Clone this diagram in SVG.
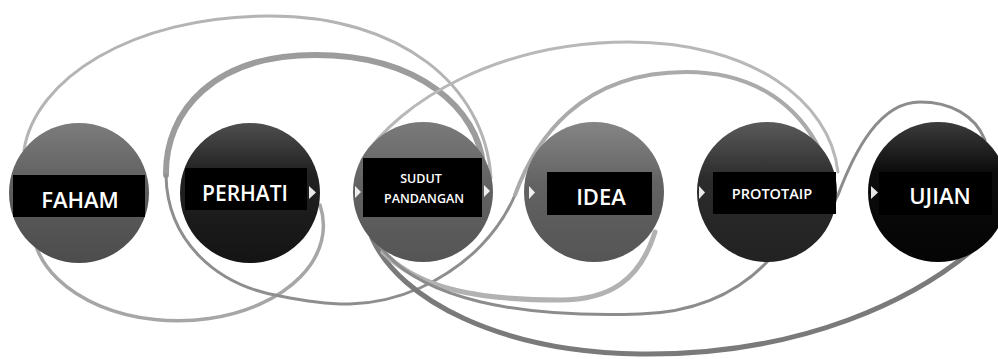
<svg xmlns="http://www.w3.org/2000/svg" width="998" height="359" viewBox="0 0 998 359">
<style>
.c{fill:none;stroke-linecap:round}
.lbl{fill:#000}
.t{fill:#fff;font-family:"Open Sans","Liberation Sans",sans-serif;font-weight:600;text-anchor:middle}
.tri{fill:#fff;opacity:0.9}
</style>
<defs>
<linearGradient id="gFaham" x1="0" y1="0" x2="0" y2="1"><stop offset="0" stop-color="#7c7c7c"/><stop offset="0.45" stop-color="#5e5e5e"/><stop offset="1" stop-color="#4c4c4c"/></linearGradient>
<linearGradient id="gPerhati" x1="0" y1="0" x2="0" y2="1"><stop offset="0" stop-color="#4e4e4e"/><stop offset="0.35" stop-color="#222"/><stop offset="1" stop-color="#141414"/></linearGradient>
<linearGradient id="gSudut" x1="0" y1="0" x2="0" y2="1"><stop offset="0" stop-color="#7a7a7a"/><stop offset="0.45" stop-color="#626262"/><stop offset="1" stop-color="#555"/></linearGradient>
<linearGradient id="gIdea" x1="0" y1="0" x2="0" y2="1"><stop offset="0" stop-color="#858585"/><stop offset="0.45" stop-color="#626262"/><stop offset="1" stop-color="#555"/></linearGradient>
<linearGradient id="gProto" x1="0" y1="0" x2="0" y2="1"><stop offset="0" stop-color="#5a5a5a"/><stop offset="0.4" stop-color="#2c2c2c"/><stop offset="1" stop-color="#222"/></linearGradient>
<linearGradient id="gUjian" x1="0" y1="0" x2="0" y2="1"><stop offset="0" stop-color="#3c3c3c"/><stop offset="0.35" stop-color="#0c0c0c"/><stop offset="1" stop-color="#040404"/></linearGradient>
</defs>
<rect width="998" height="359" fill="#fff"/>
<g id="connectors">
<path class="c" stroke="#b4b4b4" stroke-width="3" d="M 24 150 C 35 80, 130 16, 270 16 C 400 16, 485 85, 491 178"/>
<path class="c" stroke="#a6a6a6" stroke-width="3.5" d="M 36 246 A 145 95 0 0 0 320 205"/>
<path class="c" stroke="#9c9c9c" stroke-width="6" d="M 483 165 C 478 110, 420 55, 315 55 C 215 55, 165 110, 166 175"/>
<path class="c" stroke="#8e8e8e" stroke-width="3" d="M 166 175 C 167 240, 215 285, 280 296 C 330 306, 370 310, 420 288 C 470 265, 500 230, 515 195"/>
<path class="c" stroke="#aaaaaa" stroke-width="4" d="M 515 195 C 535 140, 580 72, 686 72 C 760 72, 800 110, 820 150"/>
<path class="c" stroke="#b8b8b8" stroke-width="3" d="M 362 160 C 400 100, 500 42, 629 42 C 750 42, 830 100, 838 172"/>
<path class="c" stroke="#7a7a7a" stroke-width="5" d="M 372 238 C 400 300, 500 352, 640 354 C 800 356, 920 300, 986 238"/>
<path class="c" stroke="#b2b2b2" stroke-width="5" d="M 383 252 C 420 290, 480 300, 560 300 C 610 300, 640 280, 655 232"/>
<path class="c" stroke="#8c8c8c" stroke-width="3" d="M 380 246 C 420 300, 520 318, 640 314 C 700 312, 740 290, 767 262 C 790 240, 825 220, 838 195 C 855 150, 880 102, 920 102 C 950 102, 975 115, 985 140"/>
</g>
<g id="faham">
<circle cx="79" cy="193" r="70" fill="url(#gFaham)"/>
<rect class="lbl" x="13" y="175" width="132" height="42"/>
<text class="t" x="80" y="208" font-size="22">FAHAM</text>
</g>
<g id="perhati">
<circle cx="250" cy="193" r="70" fill="url(#gPerhati)"/>
<rect class="lbl" x="185" y="168" width="122" height="42"/>
<text class="t" x="245" y="201" font-size="21">PERHATI</text>
<path class="tri" d="M 309 186 L 316 192.5 L 309 199 Z"/>
</g>
<g id="sudut">
<circle cx="423" cy="192" r="70" fill="url(#gSudut)"/>
<rect class="lbl" x="363" y="158" width="119" height="59"/>
<text class="t" x="421" y="183" font-size="12.5">SUDUT</text>
<text class="t" x="424" y="203" font-size="12.5">PANDANGAN</text>
<path class="tri" d="M 355 186 L 361 192 L 355 198 Z"/>
<path class="tri" d="M 484 185 L 490 191 L 484 197 Z"/>
</g>
<g id="idea">
<circle cx="594" cy="192" r="70" fill="url(#gIdea)"/>
<rect class="lbl" x="547" y="172" width="105" height="43"/>
<text class="t" x="601" y="205" font-size="22">IDEA</text>
<path class="tri" d="M 529 186 L 535 192.5 L 529 199 Z"/>
</g>
<g id="prototaip">
<circle cx="767" cy="192" r="70" fill="url(#gProto)"/>
<rect class="lbl" x="713" y="172" width="123" height="42"/>
<text class="t" x="772" y="199" font-size="14.5" font-weight="700">PROTOTAIP</text>
<path class="tri" d="M 699 186 L 705 192.5 L 699 199 Z"/>
</g>
<g id="ujian">
<circle cx="938" cy="192" r="70" fill="url(#gUjian)"/>
<rect class="lbl" x="879" y="172" width="113" height="43"/>
<text class="t" x="940" y="204" font-size="22">UJIAN</text>
<path class="tri" d="M 871 186 L 878 192.5 L 871 199 Z"/>
</g>
</svg>
